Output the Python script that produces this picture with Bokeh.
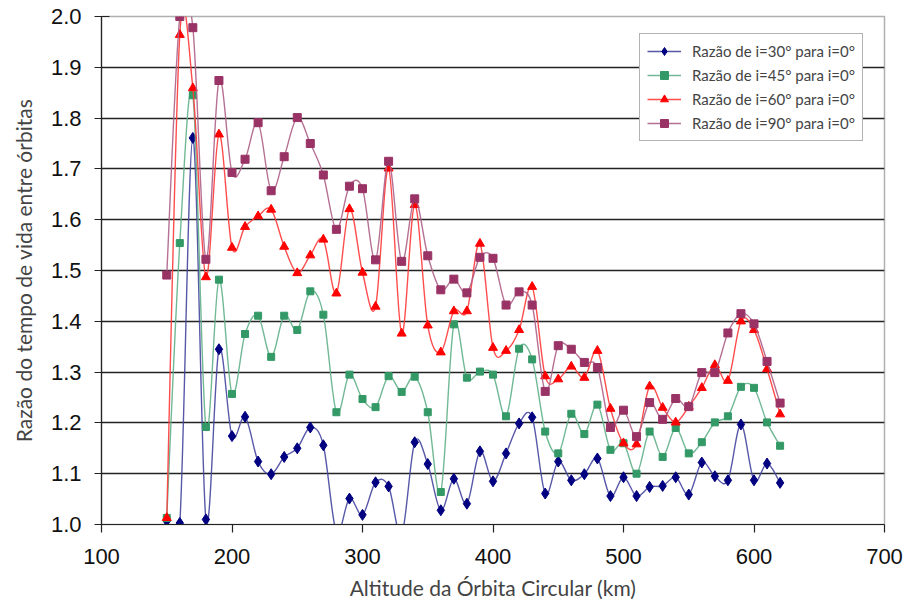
import numpy as np
from bokeh.plotting import figure
from bokeh.models import (Range1d, FixedTicker, Legend, LegendItem,
                          ColumnDataSource, PrintfTickFormatter)
from bokeh.embed import file_html
from bokeh.resources import INLINE

# ---------------- data ----------------
altitude = [150, 160, 170, 180, 190, 200, 210, 220, 230, 240, 250, 260, 270, 280,
            290, 300, 310, 320, 330, 340, 350, 360, 370, 380, 390, 400, 410, 420,
            430, 440, 450, 460, 470, 480, 490, 500, 510, 520, 530, 540, 550, 560,
            570, 580, 590, 600, 610, 620]

ratio_30 = [1.007, 1.003, 1.761, 1.010, 1.345, 1.174, 1.212, 1.124, 1.099, 1.133,
            1.150, 1.191, 1.156, 0.985, 1.051, 1.019, 1.083, 1.075, 0.980, 1.162,
            1.119, 1.028, 1.090, 1.041, 1.144, 1.085, 1.140, 1.199, 1.211, 1.061,
            1.124, 1.087, 1.099, 1.130, 1.056, 1.093, 1.056, 1.074, 1.076, 1.093,
            1.059, 1.122, 1.095, 1.087, 1.197, 1.087, 1.120, 1.082]

ratio_45 = [1.013, 1.554, 1.845, 1.192, 1.482, 1.257, 1.375, 1.411, 1.330, 1.411,
            1.383, 1.459, 1.413, 1.221, 1.295, 1.247, 1.231, 1.292, 1.261, 1.291,
            1.221, 1.064, 1.394, 1.289, 1.301, 1.295, 1.213, 1.346, 1.325, 1.183,
            1.140, 1.218, 1.178, 1.236, 1.147, 1.160, 1.100, 1.183, 1.133, 1.190,
            1.140, 1.162, 1.201, 1.213, 1.271, 1.269, 1.201, 1.155]

ratio_60 = [1.013, 1.964, 1.859, 1.487, 1.768, 1.545, 1.586, 1.607, 1.620, 1.547,
            1.495, 1.530, 1.561, 1.455, 1.621, 1.496, 1.429, 1.701, 1.376, 1.629,
            1.392, 1.339, 1.420, 1.420, 1.553, 1.348, 1.342, 1.383, 1.468, 1.292,
            1.286, 1.311, 1.289, 1.342, 1.228, 1.160, 1.158, 1.272, 1.230, 1.201,
            1.232, 1.269, 1.314, 1.283, 1.400, 1.383, 1.306, 1.217]

ratio_90 = [1.491, 2.000, 1.978, 1.522, 1.874, 1.693, 1.719, 1.791, 1.657, 1.724,
            1.801, 1.750, 1.688, 1.581, 1.666, 1.661, 1.521, 1.715, 1.518, 1.641,
            1.529, 1.462, 1.483, 1.456, 1.526, 1.524, 1.432, 1.458, 1.432, 1.262,
            1.352, 1.345, 1.319, 1.309, 1.191, 1.225, 1.173, 1.240, 1.207, 1.248,
            1.232, 1.299, 1.299, 1.377, 1.415, 1.395, 1.321, 1.239]

series_labels = ["Razão de i=30° para i=0°", "Razão de i=45° para i=0°",
                 "Razão de i=60° para i=0°", "Razão de i=90° para i=0°"]

x_ticks = [100, 200, 300, 400, 500, 600, 700]
y_ticks = [1.0, 1.1, 1.2, 1.3, 1.4, 1.5, 1.6, 1.7, 1.8, 1.9, 2.0]
y_grid = [1.0, 1.1, 1.2, 1.3, 1.4, 1.5, 1.6, 1.7, 1.8, 1.9]


def smooth_segments(xs, ys):
    """Catmull-Rom style Bezier control points (like a smoothed line)."""
    x = np.asarray(xs, float)
    y = np.asarray(ys, float)
    xp = np.concatenate([[x[0]], x, [x[-1]]])
    yp = np.concatenate([[y[0]], y, [y[-1]]])
    i = np.arange(len(x) - 1)
    return dict(
        x0=x[i], y0=y[i], x1=x[i + 1], y1=y[i + 1],
        cx0=x[i] + (xp[i + 2] - xp[i]) / 6.0,
        cy0=y[i] + (yp[i + 2] - yp[i]) / 6.0,
        cx1=x[i + 1] - (xp[i + 3] - xp[i + 1]) / 6.0,
        cy1=y[i + 1] - (yp[i + 3] - yp[i + 1]) / 6.0,
    )


p = figure(width=906, height=613, output_backend="svg", toolbar_location=None,
           x_range=Range1d(100, 700), y_range=Range1d(1.0, 2.0),
           min_border_left=101, min_border_right=22, min_border_top=16,
           min_border_bottom=89)

p.background_fill_color = "white"
p.border_fill_color = "white"
p.outline_line_color = "#b0b0b0"
p.outline_line_width = 1.5

# grid
p.xgrid.visible = False
p.ygrid.ticker = FixedTicker(ticks=y_grid)
p.ygrid.grid_line_color = "#222222"
p.ygrid.grid_line_width = 1.6

# axes
tick_font = "Liberation Sans"
p.xaxis.ticker = FixedTicker(ticks=x_ticks)
p.yaxis.ticker = FixedTicker(ticks=y_ticks)
p.yaxis.formatter = PrintfTickFormatter(format="%.1f")
for ax in (p.xaxis[0], p.yaxis[0]):
    ax.axis_line_color = "#222222"
    ax.axis_line_width = 1.2
    ax.major_tick_line_color = "#222222"
    ax.major_tick_line_width = 1.2
    ax.minor_tick_line_color = None
    ax.major_label_text_font = tick_font
    ax.major_label_text_font_size = "22px"
    ax.major_label_text_color = "#111111"
    ax.axis_label_text_font = "Lato"
    ax.axis_label_text_font_style = "normal"
    ax.axis_label_text_font_size = "21px"
    ax.axis_label_text_color = "#444444"

p.xaxis.major_tick_out = 8
p.xaxis.major_tick_in = 0
p.xaxis.major_label_standoff = 16
p.xaxis.axis_label = "Altitude da Órbita Circular (km)"
p.xaxis.axis_label_standoff = 8

p.yaxis.major_tick_out = 7
p.yaxis.major_tick_in = 8
p.yaxis.major_label_standoff = 13
p.yaxis.axis_label = "Razão do tempo de vida entre órbitas"
p.yaxis.axis_label_standoff = 12

styles = [
    dict(line="#4646a0", marker="diamond", fill="#000080", size=11),
    dict(line="#62b088", marker="square", fill="#339966", size=7),
    dict(line="#ff3a3a", marker="triangle", fill="#ff0000", size=9),
    dict(line="#ad6088", marker="square", fill="#993366", size=8),
]
all_series = [ratio_30, ratio_45, ratio_60, ratio_90]

items = []
for ys, st, lab in zip(all_series, styles, series_labels):
    seg = ColumnDataSource(smooth_segments(altitude, ys))
    br = p.bezier(x0="x0", y0="y0", x1="x1", y1="y1", cx0="cx0", cy0="cy0",
                  cx1="cx1", cy1="cy1", source=seg, line_color=st["line"],
                  line_width=1.4, line_alpha=0.9)
    pts = ColumnDataSource(dict(x=altitude, y=ys))
    sr = p.scatter("x", "y", source=pts, marker=st["marker"], size=st["size"],
                   fill_color=st["fill"], line_color=st["fill"])
    items.append(LegendItem(label=lab, renderers=[br, sr]))

legend = Legend(items=items, location=(538, 383))
legend.label_text_font = "Lato"
legend.label_text_font_size = "15px"
legend.label_text_color = "#444444"
legend.glyph_width = 34
legend.glyph_height = 20
legend.label_height = 20
legend.label_standoff = 11
legend.padding = 7
legend.spacing = 4
legend.margin = 0
legend.border_line_color = "#666666"
legend.border_line_width = 1.5
legend.background_fill_color = "white"
legend.background_fill_alpha = 1.0
p.add_layout(legend)

open("out.html", "w").write(file_html(p, INLINE))
